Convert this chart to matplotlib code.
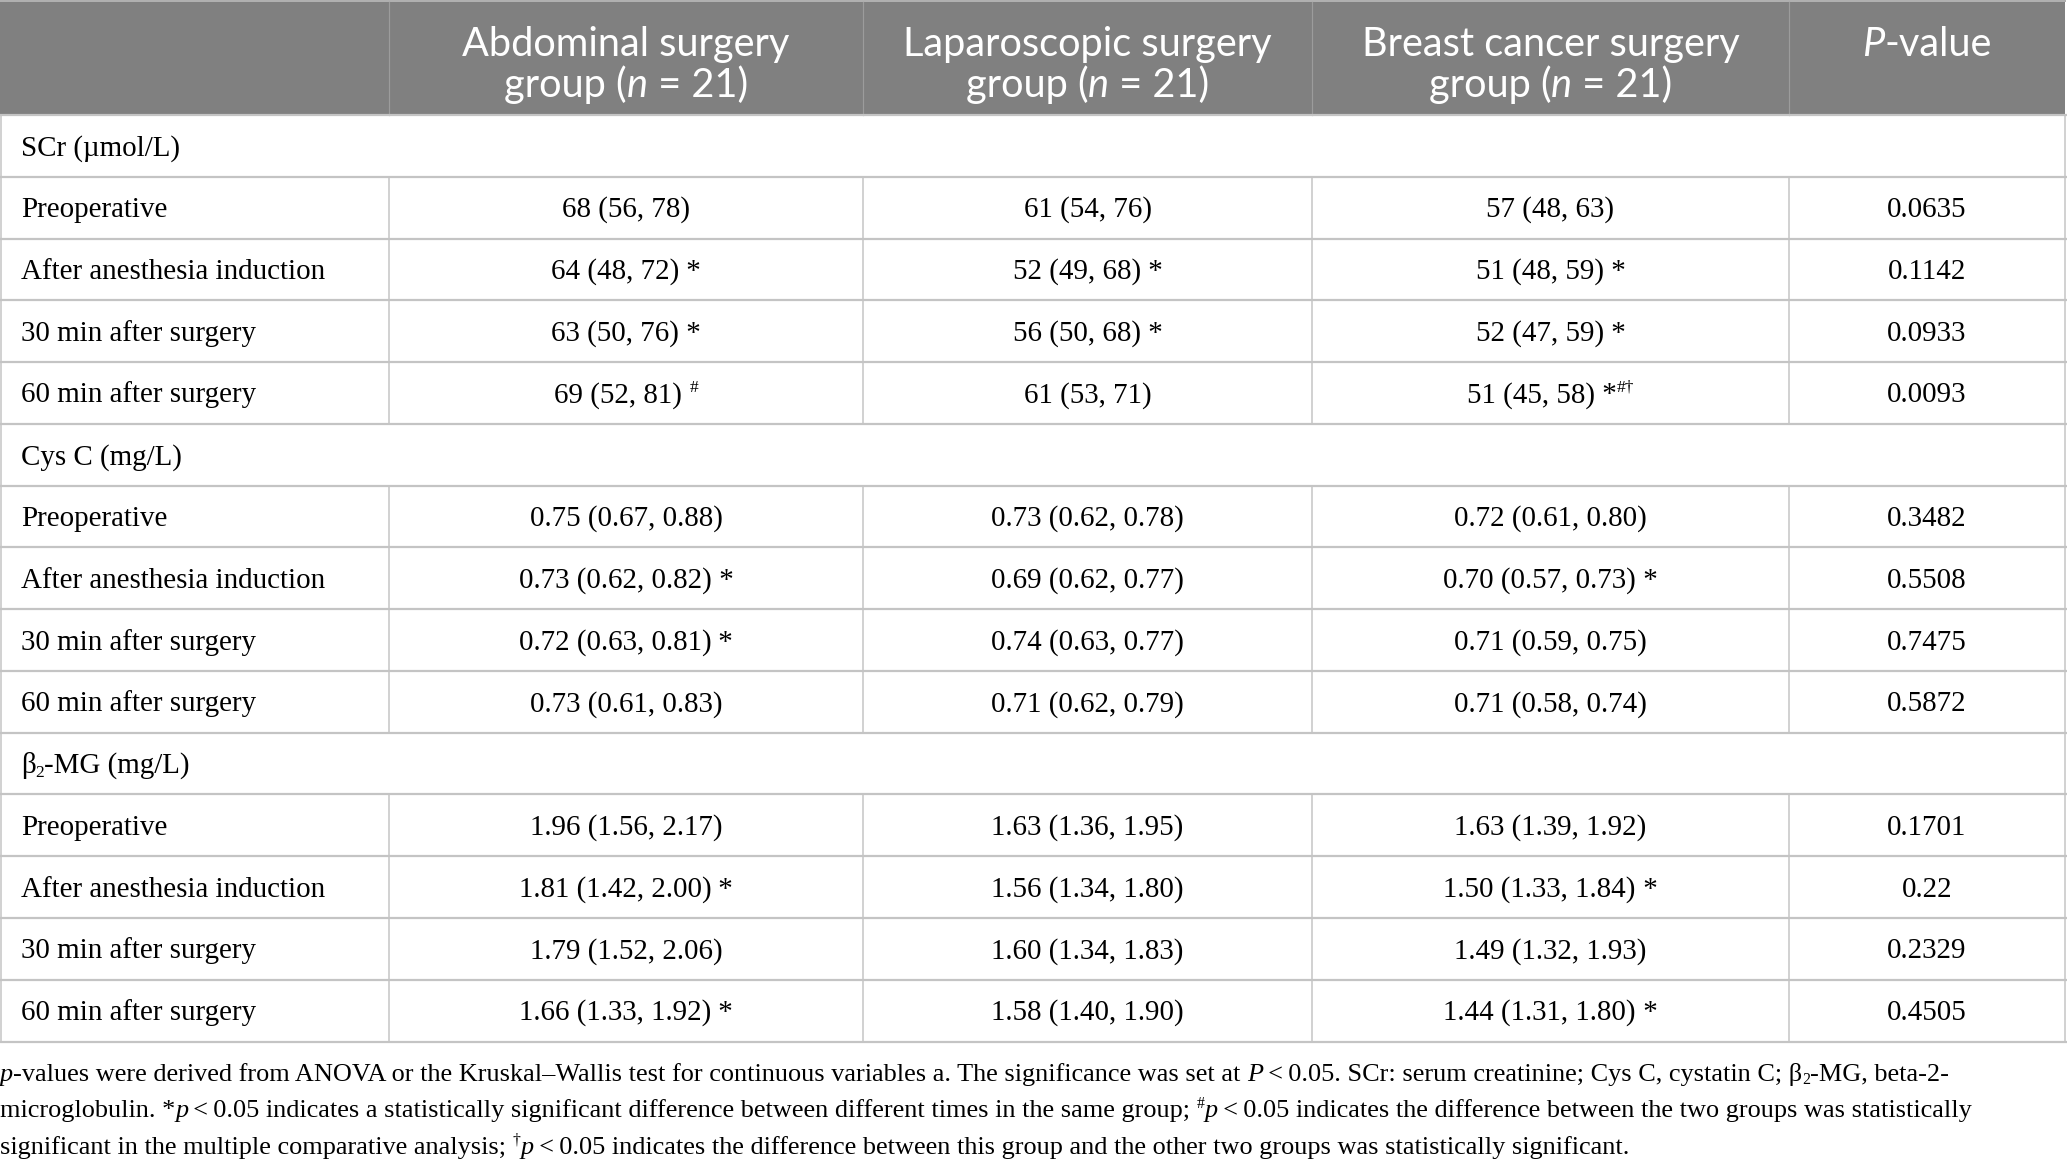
import matplotlib
matplotlib.use("Agg")
import matplotlib.pyplot as plt

# ---------------- data ----------------
group_names = ["Abdominal surgery", "Laparoscopic surgery", "Breast cancer surgery"]
group_n = [21, 21, 21]
p_header = "P-value"

sections = ["SCr (\u00b5mol/L)", "Cys C (mg/L)", "\u03b2-MG (mg/L)"]
timepoints = ["Preoperative", "After anesthesia induction",
              "30 min after surgery", "60 min after surgery"]

# SCr (median, Q1, Q3)
scr_abd = [(68, 56, 78), (64, 48, 72), (63, 50, 76), (69, 52, 81)]
scr_lap = [(61, 54, 76), (52, 49, 68), (56, 50, 68), (61, 53, 71)]
scr_bre = [(57, 48, 63), (51, 48, 59), (52, 47, 59), (51, 45, 58)]
scr_abd_mark = ["", "*", "*", "#"]
scr_lap_mark = ["", "*", "*", ""]
scr_bre_mark = ["", "*", "*", "*#\u2020"]
scr_p = ["0.0635", "0.1142", "0.0933", "0.0093"]

# Cys C
cys_abd = [(0.75, 0.67, 0.88), (0.73, 0.62, 0.82), (0.72, 0.63, 0.81), (0.73, 0.61, 0.83)]
cys_lap = [(0.73, 0.62, 0.78), (0.69, 0.62, 0.77), (0.74, 0.63, 0.77), (0.71, 0.62, 0.79)]
cys_bre = [(0.72, 0.61, 0.80), (0.70, 0.57, 0.73), (0.71, 0.59, 0.75), (0.71, 0.58, 0.74)]
cys_abd_mark = ["", "*", "*", ""]
cys_lap_mark = ["", "", "", ""]
cys_bre_mark = ["", "*", "", ""]
cys_p = ["0.3482", "0.5508", "0.7475", "0.5872"]

# beta2-MG
b2m_abd = [(1.96, 1.56, 2.17), (1.81, 1.42, 2.00), (1.79, 1.52, 2.06), (1.66, 1.33, 1.92)]
b2m_lap = [(1.63, 1.36, 1.95), (1.56, 1.34, 1.80), (1.60, 1.34, 1.83), (1.58, 1.40, 1.90)]
b2m_bre = [(1.63, 1.39, 1.92), (1.50, 1.33, 1.84), (1.49, 1.32, 1.93), (1.44, 1.31, 1.80)]
b2m_abd_mark = ["", "*", "", "*"]
b2m_lap_mark = ["", "", "", ""]
b2m_bre_mark = ["", "*", "", "*"]
b2m_p = ["0.1701", "0.22", "0.2329", "0.4505"]

footnote_lines = [
    [("p", "i"), ("-values were derived from ANOVA or the Kruskal\u2013Wallis test for continuous variables a. The significance was set at ", "n"),
     ("P", "i"), ("\u2009<\u20090.05. SCr: serum creatinine; Cys C, cystatin C; \u03b2", "n"), ("2", "sub"), ("-MG, beta-2-", "n")],
    [("microglobulin. *", "n"), ("p", "i"), ("\u2009<\u20090.05 indicates a statistically significant difference between different times in the same group; ", "n"),
     ("#", "sup"), ("p", "i"), ("\u2009<\u20090.05 indicates the difference between the two groups was statistically", "n")],
    [("significant in the multiple comparative analysis; ", "n"), ("\u2020", "sup"), ("p", "i"),
     ("\u2009<\u20090.05 indicates the difference between this group and the other two groups was statistically significant.", "n")],
]

# ---------------- layout ----------------
W, H = 2067, 1168
DPI = 100
fig = plt.figure(figsize=(W / DPI, H / DPI), dpi=DPI)
fig.patch.set_facecolor("white")
ax = fig.add_axes([0, 0, 1, 1])
ax.set_xlim(0, W)
ax.set_ylim(H, 0)
ax.axis("off")
renderer = fig.canvas.get_renderer()

SERIF = ["Liberation Serif", "DejaVu Serif"]
SANS = ["Lato", "DejaVu Sans"]
BODY_FS = 20.9
HEAD_FS = 28.6
FOOT_FS = 18.95

col_x = [0, 389, 863, 1312, 1789, 2065]
head_top, head_bot = 2, 115
row_h = (1041.5 - head_bot) / 15.0
LINE_C = "#c4c4c4"


def px2pt(p):
    return p * 72.0 / DPI


def measure(s, fs, family, style):
    t = ax.text(0, 0, "|" + s + "|", fontsize=fs, family=family, style=style)
    w1 = t.get_window_extent(renderer).width
    t.remove()
    t = ax.text(0, 0, "||", fontsize=fs, family=family, style=style)
    w0 = t.get_window_extent(renderer).width
    t.remove()
    return w1 - w0


def draw_runs(x, yb, runs, fs, family, color="black", align="left"):
    items = []
    for s, kind in runs:
        if kind == "n":
            f, st, dy = fs, "normal", 0
        elif kind == "i":
            f, st, dy = fs, "italic", 0
        elif kind == "sup":
            f, st, dy = fs * 0.6, "normal", -fs * 1.389 * 0.36
        elif kind == "sub":
            f, st, dy = fs * 0.6, "normal", fs * 1.389 * 0.12
        items.append((s, f, st, dy, measure(s, f, family, st)))
    total = sum(it[4] for it in items)
    if align == "center":
        x = x - total / 2.0
    for s, f, st, dy, w in items:
        ax.text(x, yb + dy, s, fontsize=f, family=family, style=st,
                color=color, va="baseline", ha="left")
        x += w


# header background
ax.add_patch(plt.Rectangle((0, head_top), col_x[-1], head_bot - head_top,
                           facecolor="#808080", edgecolor="none", zorder=0))
ax.plot([0, col_x[-1]], [1, 1], color="#b0b0b0", lw=px2pt(2))
for xc in col_x[1:-1]:
    ax.plot([xc, xc], [head_top, head_bot], color="#9c9c9c", lw=px2pt(1.2))

# header text
l1, l2 = 41 + 15, 82 + 15
for i, g in enumerate(group_names):
    cx = (col_x[i + 1] + col_x[i + 2]) / 2.0
    draw_runs(cx, l1, [(g, "n")], HEAD_FS, SANS, "white", "center")
    draw_runs(cx, l2, [("group (", "n"), ("n", "i"), (" = %d)" % group_n[i], "n")],
              HEAD_FS, SANS, "white", "center")
cx = (col_x[4] + col_x[5]) / 2.0
draw_runs(cx, l1, [("P", "i"), ("-value", "n")], HEAD_FS, SANS, "white", "center")


def fmt(v, dec):
    m, a, b = v
    if dec == 0:
        return "%d (%d, %d)" % (m, a, b)
    return "%.2f (%.2f, %.2f)" % (m, a, b)


def cell_runs(v, mark, dec):
    runs = [(fmt(v, dec), "n")]
    if mark:
        if mark.startswith("*"):
            runs.append((" *", "n"))
            rest = mark[1:]
            if rest:
                runs.append((rest, "sup"))
        else:
            runs.append((" ", "n"))
            runs.append((mark, "sup"))
    return runs


blocks = [
    (sections[0], [scr_abd, scr_lap, scr_bre], [scr_abd_mark, scr_lap_mark, scr_bre_mark], scr_p, 0),
    (sections[1], [cys_abd, cys_lap, cys_bre], [cys_abd_mark, cys_lap_mark, cys_bre_mark], cys_p, 2),
    (sections[2], [b2m_abd, b2m_lap, b2m_bre], [b2m_abd_mark, b2m_lap_mark, b2m_bre_mark], b2m_p, 2),
]

BASE_OFF = 9.5
row = 0
for si, (sec, vals, marks, pv, dec) in enumerate(blocks):
    y0 = head_bot + row * row_h
    cy = y0 + row_h / 2.0
    if si == 2:
        draw_runs(21, cy + BASE_OFF, [("\u03b2", "n"), ("2", "sub"), ("-MG (mg/L)", "n")], BODY_FS, SERIF)
    else:
        draw_runs(21, cy + BASE_OFF, [(sec, "n")], BODY_FS, SERIF)
    ax.plot([1, 1], [y0, y0 + row_h], color=LINE_C, lw=px2pt(1.5))
    ax.plot([col_x[-1], col_x[-1]], [y0, y0 + row_h], color=LINE_C, lw=px2pt(1.5))
    row += 1
    for ti, tp in enumerate(timepoints):
        y0 = head_bot + row * row_h
        cy = y0 + row_h / 2.0
        draw_runs(21, cy + BASE_OFF, [(tp, "n")], BODY_FS, SERIF)
        for gi in range(3):
            cx = (col_x[gi + 1] + col_x[gi + 2]) / 2.0
            draw_runs(cx, cy + BASE_OFF, cell_runs(vals[gi][ti], marks[gi][ti], dec),
                      BODY_FS, SERIF, align="center")
        cx = (col_x[4] + col_x[5]) / 2.0
        draw_runs(cx, cy + BASE_OFF, [(pv[ti], "n")], BODY_FS, SERIF, align="center")
        for xc in [1] + col_x[1:]:
            ax.plot([xc, xc], [y0, y0 + row_h], color=LINE_C, lw=px2pt(1.5))
        row += 1

for r in range(16):
    y = head_bot + r * row_h
    ax.plot([0, col_x[-1] + 1], [y, y], color=LINE_C, lw=px2pt(2.2))

# footnote
for li, runs in enumerate(footnote_lines):
    draw_runs(0, 1071.6 + li * 36.9 + 9, runs, FOOT_FS, SERIF)

fig.savefig("out.png", dpi=DPI, facecolor="white")
